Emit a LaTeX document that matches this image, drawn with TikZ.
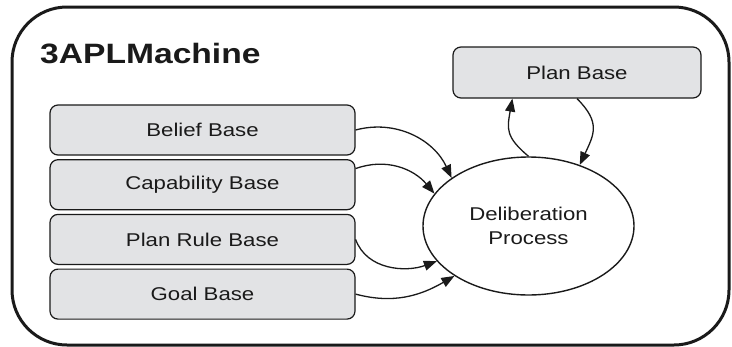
\documentclass[tikz,border=0pt]{standalone}
\usepackage{fontspec}
\setmainfont{Liberation Sans}[FakeStretch=1.2]
\usetikzlibrary{arrows.meta,positioning,shapes.geometric}
\definecolor{ink}{HTML}{1A1A1A}
\definecolor{boxfill}{HTML}{E2E3E5}
\tikzset{
  base/.style={rectangle,rounded corners=8pt,draw=ink,fill=boxfill,line width=1.2pt,
               text=ink,align=center,font=\fontsize{18.5}{22}\selectfont,inner sep=0pt,
               minimum width=305pt,minimum height=50pt},
  proc/.style={ellipse,draw=ink,line width=1.4pt,text=ink,align=center,
               font=\fontsize{18.5}{24}\selectfont,inner sep=0pt,
               minimum width=211pt,minimum height=138pt},
  fl/.style={-{Triangle[length=13pt,width=10pt]},line width=1.3pt,draw=ink},
}

\begin{document}
\begin{tikzpicture}[x=1pt,y=-1pt]
\useasboundingbox (0,0) rectangle (732,346);
% machine frame
\draw[ink,line width=3pt,rounded corners=55pt] (12,7) rectangle (729,345);
\node[anchor=base west,font=\fontsize{28}{30}\selectfont\bfseries,text=ink,inner sep=0pt] (title) at (40,63) {3APLMachine};
% bases
\node[base] (belief) at (202.5,130) {Belief Base};
\node[base, below=3.5pt of belief] (capab) {Capability Base};
\node[base, below=3.5pt of capab] (planrule) {Plan Rule Base};
\node[base, below=3.5pt of planrule] (goal) {Goal Base};
\node[base, minimum width=248pt, minimum height=51pt] (planb) at (577,72.5) {Plan Base};
\node[proc] (delib) at (528.5,226) {Deliberation\\Process};
% flows
\draw[fl] (belief.east) to[out=15,in=115] (delib.148);
\draw[fl] (capab.6) to[out=20,in=130] (delib.161);
\draw[fl] (planrule.east) to[out=-70,in=200] (delib.201);
\draw[fl] (goal.east) to[out=-15,in=210] (delib.214);
\draw[fl] (delib.90) to[out=140,in=-100,looseness=1.3] (planb.-158);
\draw[fl] (planb.south) to[out=-45,in=65,looseness=1.3] (delib.50);
\end{tikzpicture}
\end{document}
